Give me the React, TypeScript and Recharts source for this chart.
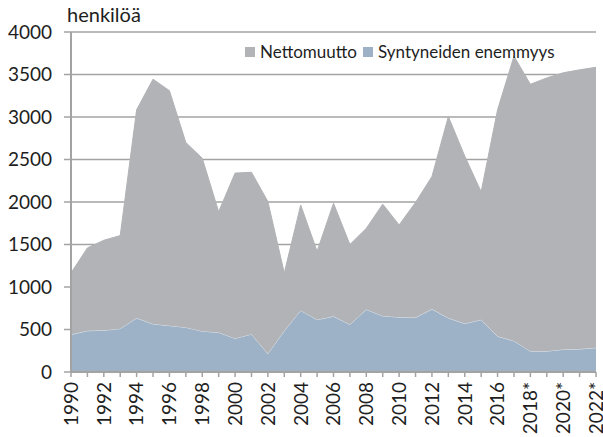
import { AreaChart, Area, XAxis, YAxis, CartesianGrid, Legend } from 'recharts';

const years = [
  '1990', '1991', '1992', '1993', '1994', '1995', '1996', '1997', '1998', '1999',
  '2000', '2001', '2002', '2003', '2004', '2005', '2006', '2007', '2008', '2009',
  '2010', '2011', '2012', '2013', '2014', '2015', '2016', '2017',
  '2018*', '2019*', '2020*', '2021*', '2022*',
];

// Syntyneiden enemmyys (natural increase)
const births = [
  440, 485, 490, 510, 635, 565, 545, 525, 480, 465,
  395, 445, 215, 485, 725, 615, 655, 560, 735, 660,
  645, 640, 740, 635, 570, 615, 420, 365, 245, 245,
  265, 270, 285,
];

// Nettomuutto (net migration)
const netMigration = [
  725, 975, 1060, 1095, 2450, 2880, 2765, 2175, 2035, 1420,
  1945, 1905, 1790, 680, 1240, 805, 1330, 940, 955, 1315,
  1085, 1355, 1560, 2370, 1970, 1505, 2665, 3350, 3140, 3215,
  3255, 3285, 3300,
];

const yTicks = [0, 500, 1000, 1500, 2000, 2500, 3000, 3500, 4000];

const data = years.map((year, i) => ({
  year,
  births: births[i],
  net: netMigration[i],
}));

const FONT = 'Lato, "Open Sans", sans-serif';
const GREY = '#b2b3b6';
const BLUE = '#9db2c7';
const AXIS = '#a3a3a3';

const XTick = (props: any) => {
  const { x, y, payload, index } = props;
  if (index % 2 !== 0) return null;
  return (
    <text
      x={x}
      y={y}
      transform={`rotate(-90 ${x} ${y})`}
      textAnchor="end"
      dy="0.36em"
      fontSize={19}
      fontFamily={FONT}
      fill="#1e1e1e"
    >
      {payload.value}
    </text>
  );
};

const legendItems = [
  { name: 'Nettomuutto', color: GREY },
  { name: 'Syntyneiden enemmyys', color: BLUE },
];

const LegendContent = () => (
  <div style={{ display: 'flex', alignItems: 'center', fontFamily: FONT, fontSize: 17, color: '#1e1e1e', whiteSpace: 'nowrap' }}>
    {legendItems.map((item) => (
      <span key={item.name} style={{ display: 'flex', alignItems: 'center', marginRight: 6 }}>
        <span style={{ width: 10, height: 10, background: item.color, display: 'inline-block', marginRight: 5 }} />
        {item.name}
      </span>
    ))}
  </div>
);

export default function App() {
  return (
    <div style={{ position: 'absolute', left: 0, top: 0, width: 603, height: 437, background: '#fff' }}>
      <div style={{ position: 'absolute', left: 67, top: 2, fontFamily: FONT, fontSize: 20, color: '#1e1e1e' }}>
        henkilöä
      </div>
      <AreaChart width={603} height={437} data={data} margin={{ top: 32, right: 7, left: 0, bottom: 0 }}>
        <CartesianGrid horizontal vertical={false} stroke={AXIS} strokeWidth={1.5} />
        <XAxis
          dataKey="year"
          interval={0}
          height={65}
          tick={<XTick />}
          tickSize={5}
          tickMargin={5}
          axisLine={{ stroke: AXIS, strokeWidth: 2 }}
          tickLine={{ stroke: AXIS, strokeWidth: 1.5 }}
        />
        <YAxis
          width={71}
          domain={[0, 4000]}
          ticks={yTicks}
          interval={0}
          tickSize={7}
          tickMargin={12}
          axisLine={{ stroke: AXIS, strokeWidth: 2 }}
          tickLine={{ stroke: AXIS, strokeWidth: 1.5 }}
          tick={{ fontSize: 19, fontFamily: FONT, fill: '#1e1e1e' }}
        />
        <Legend
          layout="vertical"
          align="center"
          verticalAlign="middle"
          wrapperStyle={{ top: 41, left: 245, width: 'auto' }}
          content={<LegendContent />}
        />
        <Area
          type="linear"
          dataKey="births"
          name="Syntyneiden enemmyys"
          stackId="a"
          fill={BLUE}
          fillOpacity={1}
          stroke="#dde5ee"
          strokeWidth={1}
          isAnimationActive={false}
        />
        <Area
          type="linear"
          dataKey="net"
          name="Nettomuutto"
          stackId="a"
          fill={GREY}
          fillOpacity={1}
          stroke={GREY}
          strokeWidth={1}
          isAnimationActive={false}
        />
      </AreaChart>
    </div>
  );
}
